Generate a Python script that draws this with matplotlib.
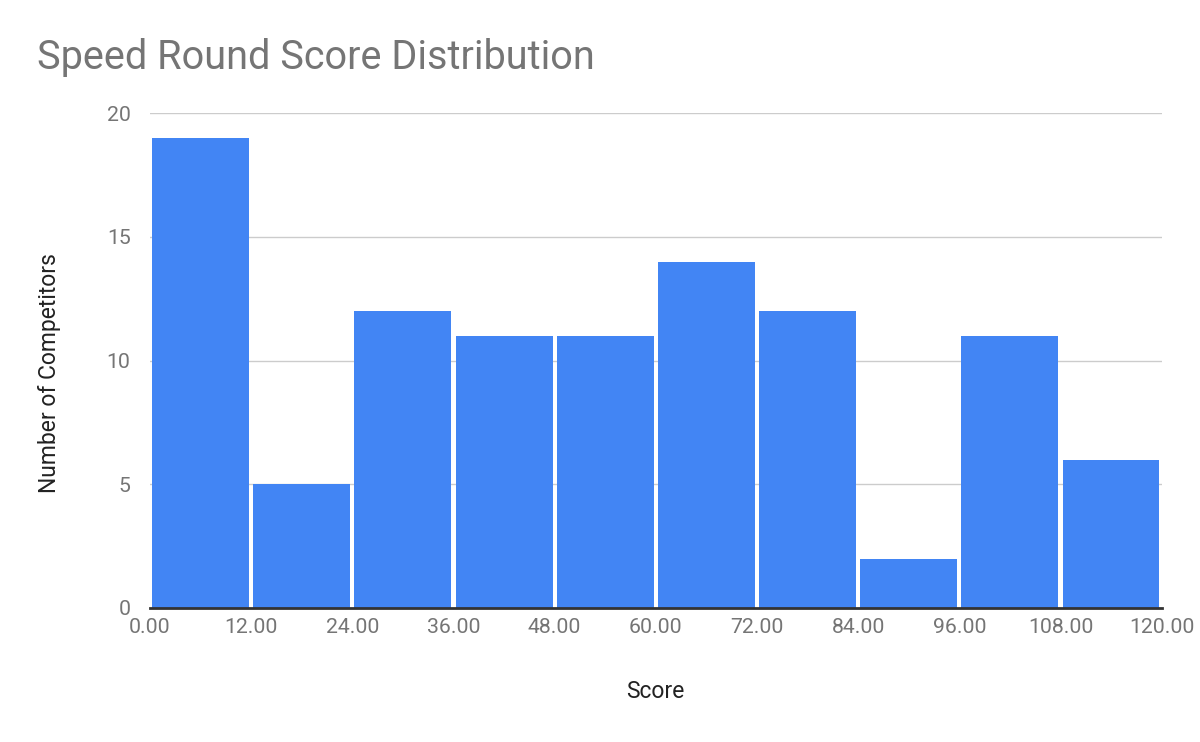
import matplotlib.pyplot as plt
import numpy as np

bin_edges = [0, 12, 24, 36, 48, 60, 72, 84, 96, 108]
counts = [19, 5, 12, 11, 11, 14, 12, 2, 11, 6]
x_ticks = [0, 12, 24, 36, 48, 60, 72, 84, 96, 108, 120]
y_ticks = [0, 5, 10, 15, 20]

plt.rcParams['font.family'] = ['Roboto', 'DejaVu Sans']

fig = plt.figure(figsize=(12, 7.42), dpi=100)
ax = fig.add_axes([0.125, 0.1806, 0.843, 0.667])

bin_w = 12
ax.bar(np.array(bin_edges) + 0.25, counts, width=bin_w - 0.5, align='edge',
       color='#4285F4', zorder=3)

ax.set_xlim(0, 120)
ax.set_ylim(0, 20)
ax.set_xticks(x_ticks)
ax.set_xticklabels([f"{t:.2f}" for t in x_ticks])
ax.set_yticks(y_ticks)

ax.grid(axis='y', color='#cccccc', linewidth=1, zorder=0)
for s in ['top', 'right', 'left']:
    ax.spines[s].set_visible(False)
ax.spines['bottom'].set_color('#333333')
ax.spines['bottom'].set_linewidth(2)
ax.spines['bottom'].set_zorder(4)

ax.tick_params(axis='both', length=0, labelsize=15.3, labelcolor='#757575')
ax.tick_params(axis='x', pad=7)
ax.tick_params(axis='y', pad=14)

ax.set_xlabel('Score', fontsize=16.5, color='#222222', labelpad=31)
ax.set_ylabel('Number of Competitors', fontsize=16.5, color='#222222')
ax.yaxis.set_label_coords(-0.088, 0.475)

fig.text(0.031, 0.922, 'Speed Round Score Distribution', fontsize=28.5,
         color='#757575', va='center', ha='left')

fig.savefig('out.png', dpi=100)
